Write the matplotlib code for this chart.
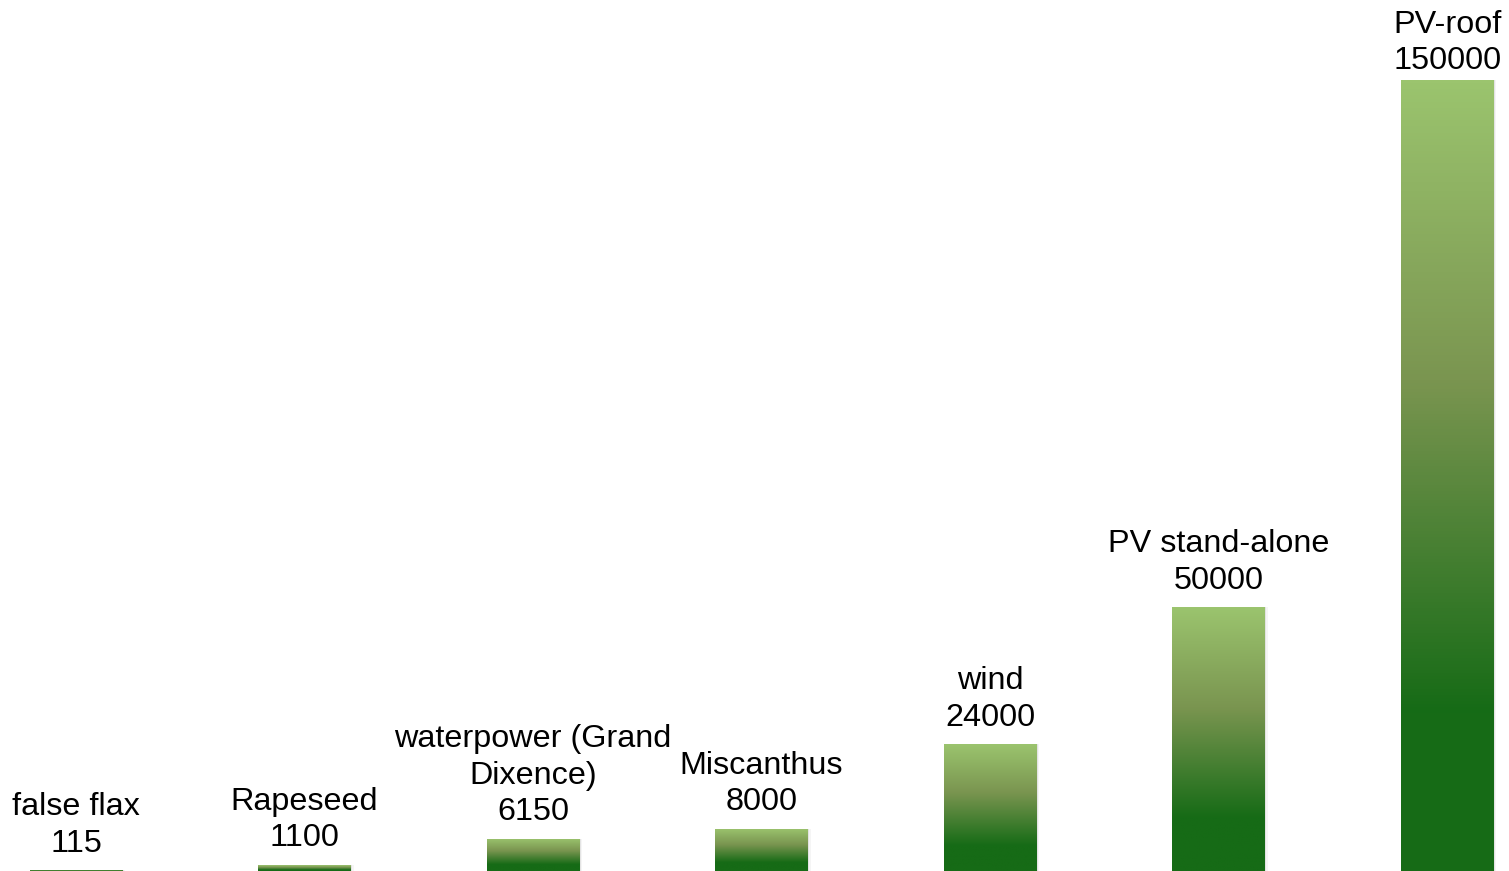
import numpy as np
import matplotlib
matplotlib.use("Agg")
import matplotlib.pyplot as plt
from matplotlib.colors import LinearSegmentedColormap

names = ["false flax", "Rapeseed", "waterpower (Grand\nDixence)", "Miscanthus",
         "wind", "PV stand-alone", "PV-roof"]
values = [115, 1100, 6150, 8000, 24000, 50000, 150000]

plt.rcParams["font.family"] = ["Liberation Sans", "DejaVu Sans"]

# light green at the top of each bar, dark green at its foot
grad = LinearSegmentedColormap.from_list(
    "greens", [(0.0, "#9bc46e"), (0.38, "#7a9550"), (0.8, "#166b16"), (1.0, "#166b16")])

fig = plt.figure(figsize=(15.09, 8.71), dpi=100)
ax = fig.add_axes([0, 0, 1, 1])
ax.set_xlim(-0.333, 6.271)
ax.set_ylim(0, 165171)
ax.axis("off")

x = np.arange(len(values))
width = 0.407
bars = ax.bar(x, values, width=width, color="none", edgecolor="none")

col = np.linspace(0, 1, 256).reshape(-1, 1)
for xi, b, v in zip(x, bars, values):
    # faint drop shadow to the right
    for k, a in ((0.006, 0.07), (0.011, 0.04)):
        ax.bar(xi + k, v, width=width, color="#000000", alpha=a,
               edgecolor="none", zorder=1)
    im = ax.imshow(col, cmap=grad, aspect="auto", zorder=2,
                   extent=[xi - width / 2, xi + width / 2, 0, v], origin="upper")
    im.set_clip_path(b)

for i, (xi, v, name) in enumerate(zip(x, values, names)):
    off = 3 if i == len(values) - 1 else 8.5
    ax.annotate(f"{name}\n{v}", (xi, v), xytext=(0, off), textcoords="offset points",
                ha="center", va="bottom", fontsize=23.3, linespacing=1.27)

fig.savefig("out.png", dpi=100)
